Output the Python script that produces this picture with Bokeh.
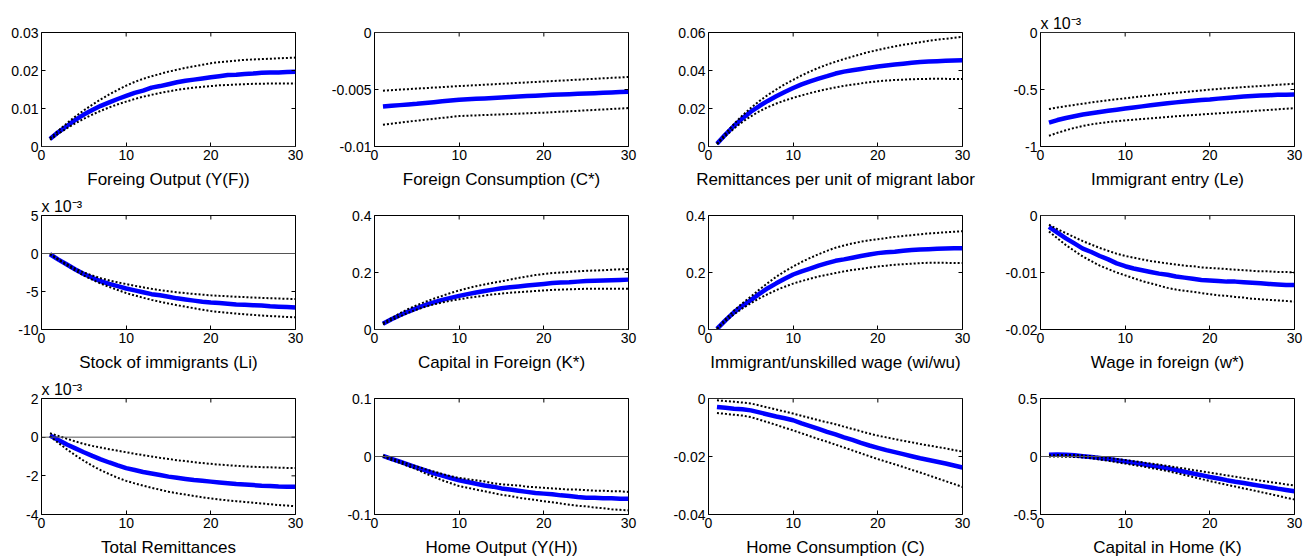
import math
from bokeh.plotting import figure
from bokeh.layouts import column, row
from bokeh.models import Range1d, FixedTicker, Span, Title
from bokeh.embed import file_html
from bokeh.resources import INLINE

periods = list(range(1, 31))

titles = ["Foreing Output (Y(F))", "Foreign Consumption (C*)",
          "Remittances per unit of migrant labor", "Immigrant entry (Le)",
          "Stock of immigrants (Li)", "Capital in Foreign (K*)",
          "Immigrant/unskilled wage (wi/wu)", "Wage in foreign (w*)",
          "Total Remittances", "Home Output (Y(H))",
          "Home Consumption (C)", "Capital in Home (K)"]

# values for panels 4, 5 and 9 are in units of 10^-3 (as displayed)
scaled_e3 = [False, False, False, True, True, False, False, False, True, False, False, False]
scale_text = "x 10\u207b\u00b3"

y_ticks = [[0, 0.01, 0.02, 0.03], [-0.01, -0.005, 0], [0, 0.02, 0.04, 0.06], [-1, -0.5, 0],
           [-10, -5, 0, 5], [0, 0.2, 0.4], [0, 0.2, 0.4], [-0.02, -0.01, 0],
           [-4, -2, 0, 2], [-0.1, 0, 0.1], [-0.04, -0.02, 0], [-0.5, 0, 0.5]]
y_tick_labels = [["0", "0.01", "0.02", "0.03"], ["-0.01", "-0.005", "0"], ["0", "0.02", "0.04", "0.06"],
                 ["-1", "-0.5", "0"], ["-10", "-5", "0", "5"], ["0", "0.2", "0.4"], ["0", "0.2", "0.4"],
                 ["-0.02", "-0.01", "0"], ["-4", "-2", "0", "2"], ["-0.1", "0", "0.1"],
                 ["-0.04", "-0.02", "0"], ["-0.5", "0", "0.5"]]
x_ticks = [0, 10, 20, 30]
x_tick_labels = ["0", "10", "20", "30"]

med_1 = [.0020, .0038, .0054, .0070, .0084, .0096, .0107, .0116, .0125, .0133, .0141, .0147, .0155, .0159, .0164,
         .0169, .0173, .0176, .0179, .0182, .0185, .0188, .0189, .0191, .0192, .0194, .0195, .0195, .0196, .0197]
up_1 = [.0022, .0042, .0061, .0079, .0095, .0110, .0124, .0137, .0149, .0160, .0170, .0178, .0185, .0191, .0197,
        .0202, .0207, .0211, .0215, .0219, .0222, .0224, .0226, .0228, .0229, .0230, .0231, .0232, .0233, .0234]
lo_1 = [.0018, .0034, .0048, .0061, .0073, .0084, .0094, .0103, .0111, .0118, .0125, .0131, .0136, .0141, .0145,
        .0149, .0152, .0155, .0157, .0159, .0161, .0162, .0163, .0164, .0165, .0165, .0166, .0166, .0166, .0166]

med_2 = [-.00650, -.00643, -.00637, -.00631, -.00625, -.00618, -.00611, -.00604, -.00597, -.00590, -.00586, -.00582,
         -.00578, -.00574, -.00570, -.00566, -.00562, -.00558, -.00554, -.00550, -.00547, -.00544, -.00541, -.00538,
         -.00535, -.00532, -.00529, -.00526, -.00523, -.00520]
up_2 = [-.00510, -.00506, -.00501, -.00497, -.00492, -.00488, -.00483, -.00479, -.00474, -.00470, -.00466, -.00462,
        -.00458, -.00454, -.00450, -.00446, -.00442, -.00438, -.00434, -.00430, -.00426, -.00422, -.00418, -.00414,
        -.00410, -.00406, -.00402, -.00398, -.00394, -.00390]
lo_2 = [-.00810, -.00800, -.00791, -.00782, -.00773, -.00765, -.00757, -.00749, -.00741, -.00733, -.00730, -.00727,
        -.00724, -.00721, -.00718, -.00715, -.00712, -.00709, -.00706, -.00703, -.00699, -.00695, -.00691, -.00687,
        -.00683, -.00679, -.00675, -.00671, -.00667, -.00663]

med_3 = [.0014, .0063, .0108, .0148, .0183, .0213, .0240, .0264, .0287, .0308, .0327, .0343, .0357, .0370, .0384,
         .0394, .0401, .0408, .0415, .0421, .0426, .0431, .0436, .0441, .0445, .0447, .0449, .0451, .0453, .0454]
up_3 = [.0015, .0068, .0118, .0163, .0203, .0239, .0271, .0300, .0327, .0351, .0374, .0395, .0414, .0431, .0446,
        .0460, .0473, .0486, .0498, .0508, .0518, .0527, .0535, .0542, .0549, .0556, .0562, .0567, .0572, .0577]
lo_3 = [.0012, .0055, .0094, .0129, .0159, .0185, .0207, .0226, .0242, .0256, .0269, .0281, .0292, .0302, .0311,
        .0319, .0326, .0332, .0338, .0343, .0347, .0350, .0352, .0354, .0355, .0356, .0356, .0356, .0355, .0355]

med_4 = [-0.790, -0.768, -0.750, -0.735, -0.720, -0.708, -0.697, -0.687, -0.677, -0.667, -0.657, -0.648, -0.639,
         -0.630, -0.621, -0.613, -0.606, -0.599, -0.593, -0.587, -0.580, -0.574, -0.568, -0.562, -0.557, -0.553,
         -0.550, -0.547, -0.545, -0.543]
up_4 = [-0.671, -0.658, -0.646, -0.635, -0.624, -0.614, -0.604, -0.595, -0.586, -0.577, -0.568, -0.560, -0.552,
        -0.544, -0.536, -0.529, -0.522, -0.515, -0.508, -0.501, -0.495, -0.489, -0.484, -0.479, -0.474, -0.469,
        -0.464, -0.459, -0.454, -0.449]
lo_4 = [-0.906, -0.880, -0.857, -0.837, -0.820, -0.806, -0.795, -0.786, -0.778, -0.771, -0.765, -0.759, -0.753,
        -0.747, -0.741, -0.735, -0.729, -0.724, -0.719, -0.714, -0.709, -0.704, -0.699, -0.694, -0.689, -0.684,
        -0.679, -0.674, -0.669, -0.664]

med_5 = [-0.10, -0.80, -1.45, -2.10, -2.70, -3.20, -3.65, -4.00, -4.30, -4.60, -4.85, -5.10, -5.35, -5.50, -5.70,
         -5.90, -6.05, -6.20, -6.35, -6.45, -6.50, -6.60, -6.70, -6.75, -6.80, -6.85, -6.95, -7.00, -7.05, -7.10]
up_5 = [0.00, -0.75, -1.40, -2.00, -2.50, -2.90, -3.25, -3.55, -3.80, -4.02, -4.25, -4.45, -4.65, -4.82, -4.98,
        -5.10, -5.22, -5.32, -5.42, -5.50, -5.57, -5.63, -5.69, -5.74, -5.79, -5.84, -5.88, -5.92, -5.96, -6.00]
lo_5 = [-0.10, -0.85, -1.55, -2.25, -2.90, -3.45, -3.95, -4.40, -4.80, -5.20, -5.52, -5.82, -6.10, -6.35, -6.58,
        -6.80, -7.00, -7.20, -7.40, -7.57, -7.70, -7.81, -7.91, -8.00, -8.08, -8.16, -8.23, -8.29, -8.35, -8.40]

med_6 = [.020, .036, .050, .063, .075, .086, .095, .104, .111, .118, .124, .130, .135, .140, .145,
         .148, .151, .154, .157, .160, .163, .165, .166, .168, .170, .171, .172, .173, .174, .175]
up_6 = [.022, .040, .057, .072, .085, .097, .108, .118, .128, .137, .145, .152, .158, .164, .169,
        .175, .181, .186, .191, .195, .198, .200, .202, .204, .206, .207, .208, .210, .211, .212]
lo_6 = [.018, .033, .046, .059, .070, .080, .088, .095, .101, .106, .111, .115, .119, .123, .126,
        .129, .131, .133, .135, .137, .139, .140, .141, .142, .143, .143, .143, .143, .143, .143]

med_7 = [.002, .032, .060, .083, .103, .125, .145, .162, .178, .193, .204, .214, .224, .233, .241,
         .246, .252, .258, .263, .268, .271, .273, .276, .279, .281, .282, .283, .284, .285, .285]
up_7 = [.003, .036, .066, .092, .115, .140, .163, .185, .204, .221, .237, .251, .264, .276, .287,
        .295, .302, .308, .313, .317, .321, .325, .328, .331, .334, .337, .339, .341, .343, .345]
lo_7 = [.001, .029, .053, .074, .092, .109, .124, .138, .150, .161, .170, .178, .186, .192, .198,
        .204, .209, .213, .217, .221, .224, .227, .229, .231, .233, .234, .234, .234, .233, .233]

med_8 = [-.0020, -.0030, -.0040, -.0049, -.0058, -.0064, -.0071, -.0077, -.0084, -.0089, -.0093, -.0096, -.0099,
         -.0102, -.0104, -.0107, -.0109, -.0111, -.0113, -.0114, -.0115, -.0116, -.0116, -.0117, -.0118, -.0119,
         -.0120, -.0121, -.0122, -.0122]
up_8 = [-.0016, -.0024, -.0031, -.0038, -.0045, -.0051, -.0057, -.0062, -.0067, -.0071, -.0074, -.0077, -.0080,
        -.0082, -.0084, -.0086, -.0088, -.0089, -.0091, -.0092, -.0093, -.0094, -.0095, -.0096, -.0097, -.0098,
        -.0098, -.0099, -.0099, -.0100]
lo_8 = [-.0028, -.0040, -.0052, -.0062, -.0072, -.0080, -.0088, -.0094, -.0100, -.0105, -.0110, -.0115, -.0119,
        -.0123, -.0127, -.0130, -.0132, -.0134, -.0136, -.0138, -.0140, -.0141, -.0143, -.0144, -.0146, -.0147,
        -.0148, -.0149, -.0150, -.0151]

med_9 = [0.09, -0.15, -0.38, -0.58, -0.78, -0.97, -1.15, -1.31, -1.46, -1.60, -1.70, -1.80, -1.88, -1.96, -2.04,
         -2.10, -2.16, -2.22, -2.26, -2.30, -2.34, -2.38, -2.42, -2.45, -2.48, -2.51, -2.53, -2.55, -2.56, -2.57]
up_9 = [0.20, 0.06, -0.08, -0.22, -0.35, -0.45, -0.54, -0.62, -0.70, -0.78, -0.86, -0.93, -1.00, -1.07, -1.13,
        -1.19, -1.24, -1.29, -1.34, -1.38, -1.42, -1.45, -1.48, -1.51, -1.53, -1.55, -1.56, -1.58, -1.59, -1.60]
lo_9 = [0.05, -0.30, -0.63, -0.94, -1.22, -1.48, -1.71, -1.91, -2.10, -2.26, -2.39, -2.51, -2.62, -2.72, -2.82,
        -2.90, -2.97, -3.04, -3.11, -3.17, -3.22, -3.27, -3.31, -3.35, -3.39, -3.43, -3.47, -3.51, -3.54, -3.57]

med_10 = [.001, -.004, -.009, -.014, -.019, -.024, -.029, -.033, -.037, -.041, -.044, -.047, -.050, -.052, -.055,
          -.057, -.059, -.061, -.063, -.064, -.065, -.067, -.068, -.070, -.071, -.071, -.072, -.072, -.073, -.073]
up_10 = [.002, -.003, -.008, -.013, -.017, -.022, -.026, -.030, -.034, -.037, -.039, -.041, -.043, -.046, -.048,
         -.049, -.050, -.052, -.053, -.054, -.055, -.056, -.057, -.057, -.058, -.059, -.059, -.060, -.060, -.061]
lo_10 = [.000, -.006, -.011, -.017, -.022, -.029, -.035, -.041, -.046, -.051, -.054, -.057, -.060, -.063, -.066,
         -.068, -.071, -.073, -.075, -.077, -.079, -.081, -.083, -.085, -.086, -.088, -.089, -.091, -.092, -.093]

med_11 = [-.0029, -.0032, -.0035, -.0037, -.0041, -.0048, -.0055, -.0062, -.0068, -.0075, -.0086, -.0095, -.0105,
          -.0115, -.0124, -.0134, -.0143, -.0153, -.0162, -.0170, -.0178, -.0185, -.0192, -.0199, -.0206, -.0212,
          -.0218, -.0224, -.0231, -.0238]
up_11 = [-.0006, -.0009, -.0011, -.0014, -.0017, -.0024, -.0031, -.0038, -.0045, -.0052, -.0060, -.0067, -.0075,
         -.0082, -.0089, -.0097, -.0105, -.0113, -.0121, -.0128, -.0134, -.0140, -.0146, -.0151, -.0157, -.0162,
         -.0167, -.0172, -.0178, -.0183]
lo_11 = [-.0050, -.0053, -.0056, -.0059, -.0064, -.0073, -.0082, -.0091, -.0101, -.0110, -.0120, -.0130, -.0140,
         -.0149, -.0159, -.0169, -.0179, -.0189, -.0199, -.0209, -.0218, -.0227, -.0236, -.0246, -.0255, -.0265,
         -.0275, -.0285, -.0295, -.0305]

med_12 = [.015, .017, .016, .010, .003, -.005, -.013, -.022, -.032, -.043, -.054, -.065, -.077, -.089, -.101,
          -.116, -.131, -.146, -.161, -.177, -.190, -.204, -.217, -.229, -.241, -.253, -.265, -.277, -.288, -.300]
up_12 = [.010, .012, .013, .012, .008, .002, -.005, -.013, -.021, -.030, -.040, -.050, -.060, -.070, -.081,
         -.093, -.104, -.116, -.127, -.139, -.151, -.163, -.174, -.186, -.197, -.208, -.219, -.229, -.240, -.250]
lo_12 = [.000, .000, -.002, -.004, -.008, -.016, -.026, -.037, -.049, -.061, -.073, -.085, -.098, -.111, -.125,
         -.142, -.159, -.176, -.194, -.212, -.228, -.244, -.259, -.275, -.290, -.306, -.322, -.338, -.355, -.371]

medians = [med_1, med_2, med_3, med_4, med_5, med_6, med_7, med_8, med_9, med_10, med_11, med_12]
uppers = [up_1, up_2, up_3, up_4, up_5, up_6, up_7, up_8, up_9, up_10, up_11, up_12]
lowers = [lo_1, lo_2, lo_3, lo_4, lo_5, lo_6, lo_7, lo_8, lo_9, lo_10, lo_11, lo_12]

FONT = "Liberation Sans"
FRAME_W, FRAME_H = 254, 116
col_left = [41, 48, 40, 40]
col_width = [326, 342, 332, 306]
row_top = [32, 24, 24]
row_height = [191, 183, 185]


def style_axis(ax, ticks, labels):
    ax.ticker = FixedTicker(ticks=ticks)
    ax.major_label_overrides = {t: s for t, s in zip(ticks, labels)}
    ax.major_tick_in = 4
    ax.major_tick_out = 0
    ax.major_tick_line_color = "black"
    ax.major_tick_line_width = 1
    ax.minor_tick_line_color = None
    ax.axis_line_color = None
    ax.major_label_text_font = FONT
    ax.major_label_text_font_size = "14px"
    ax.major_label_text_color = "black"
    ax.major_label_standoff = 3


figs = []
for i in range(12):
    r, c = divmod(i, 4)
    ylo, yhi = y_ticks[i][0], y_ticks[i][-1]
    p = figure(width=col_width[c], height=row_height[r], output_backend="svg", toolbar_location=None,
               x_range=Range1d(0, 30), y_range=Range1d(ylo, yhi),
               min_border_left=col_left[c], min_border_right=col_width[c] - col_left[c] - FRAME_W,
               min_border_top=row_top[r], min_border_bottom=row_height[r] - row_top[r] - FRAME_H)
    p.xgrid.visible = False
    p.ygrid.visible = False
    p.outline_line_color = "black"
    p.outline_line_width = 1
    p.outline_line_alpha = 1
    p.background_fill_color = "white"
    p.border_fill_color = "white"

    style_axis(p.xaxis[0], x_ticks, x_tick_labels)
    style_axis(p.yaxis[0], y_ticks[i], y_tick_labels[i])
    p.xaxis[0].axis_label = titles[i]
    p.xaxis[0].axis_label_text_font = FONT
    p.xaxis[0].axis_label_text_font_size = "17px"
    p.xaxis[0].axis_label_text_font_style = "normal"
    p.xaxis[0].axis_label_text_color = "black"
    p.xaxis[0].axis_label_standoff = 7

    p.add_layout(Span(location=0, dimension="width", line_color="#555555", line_width=1))

    p.line(periods, medians[i], line_color="#0000ff", line_width=4.5)
    p.line(periods, uppers[i], line_color="black", line_width=2, line_dash="2 2")
    p.line(periods, lowers[i], line_color="black", line_width=2, line_dash="2 2")

    # inward tick marks on the top and right edges of the box (outer half is clipped by the frame)
    p.scatter(x_ticks, [yhi] * len(x_ticks), marker="dash", angle=math.pi / 2, size=8,
              line_color="black", line_width=1)
    p.scatter([x_ticks[-1]] * len(y_ticks[i]), y_ticks[i], marker="dash", size=8,
              line_color="black", line_width=1)

    if scaled_e3[i]:
        p.add_layout(Title(text=scale_text, align="left", text_font=FONT, text_font_size="16px",
                           text_font_style="normal", text_color="black", standoff=2), "above")
    figs.append(p)

layout = column(row(*figs[0:4]), row(*figs[4:8]), row(*figs[8:12]))

open("out.html", "w").write(file_html(layout, INLINE))
